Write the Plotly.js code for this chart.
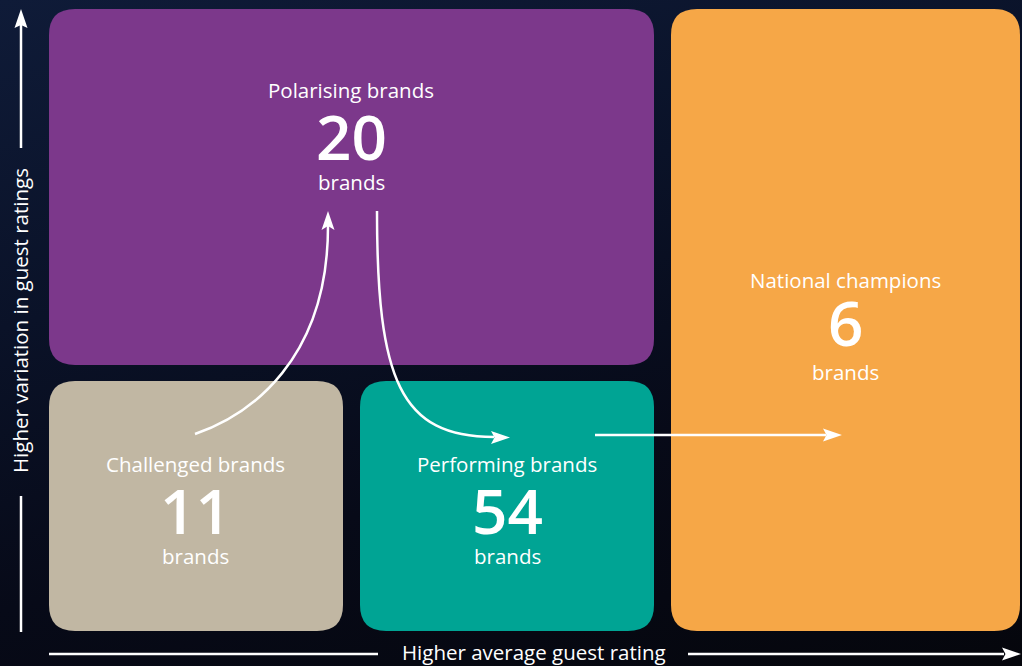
<!DOCTYPE html>
<html>
<head>
<meta charset="utf-8">
<script src="https://cdn.plot.ly/plotly-3.0.1.min.js"></script>
<style>
  html, body { margin:0; padding:0; width:1022px; height:666px; overflow:hidden;
    background: linear-gradient(165deg, #0f1b38 0%, #0a1228 35%, #070a18 65%, #05060c 100%); }
  #chart { width:1022px; height:666px; }
</style>
</head>
<body>
<div id="chart"></div>
<script>
// ---- data ----
const categories = ['Polarising brands', 'National champions', 'Challenged brands', 'Performing brands'];
const brandCounts = [20, 6, 11, 54];
const unitLabel = 'brands';
const xAxisLabel = 'Higher average guest rating';
const yAxisLabel = 'Higher variation in guest ratings';

// ---- layout constants (positions/styles) ----
const boxes = {
  'Polarising brands':  {x0: 49,  y0: 9,   x1: 654,  y1: 365, color: '#7c388b', cx: 351, ty: 89.5,  ny: 136, by: 182},
  'National champions': {x0: 671, y0: 9,   x1: 1020, y1: 631, color: '#f6a747', cx: 845, ty: 279.5, ny: 322, by: 371.5},
  'Challenged brands':  {x0: 49,  y0: 381, x1: 343,  y1: 631, color: '#c1b7a3', cx: 195, ty: 464,   ny: 510, by: 555.5},
  'Performing brands':  {x0: 360, y0: 381, x1: 654,  y1: 631, color: '#00a494', cx: 507, ty: 464,   ny: 510, by: 555.5}
};
const R = 26;
const FONT = '"Open Sans", Lato, sans-serif';
const WHITE = '#ffffff';
const LABEL_SIZE = 20.5;
const AXIS_SIZE = 20.5;
const NUM_SIZE = 62;

function roundRect(x0, y0, x1, y1, r) {
  return `M ${x0 + r} ${y0} L ${x1 - r} ${y0} Q ${x1} ${y0} ${x1} ${y0 + r} ` +
         `L ${x1} ${y1 - r} Q ${x1} ${y1} ${x1 - r} ${y1} ` +
         `L ${x0 + r} ${y1} Q ${x0} ${y1} ${x0} ${y1 - r} ` +
         `L ${x0} ${y0 + r} Q ${x0} ${y0} ${x0 + r} ${y0} Z`;
}

const shapes = [];
const annotations = [];

categories.forEach((cat, i) => {
  const b = boxes[cat];
  shapes.push({type: 'path', xref: 'x', yref: 'y', path: roundRect(b.x0, b.y0, b.x1, b.y1, R),
               fillcolor: b.color, line: {width: 0}, layer: 'below'});
  annotations.push({x: b.cx, y: b.ty, xref: 'x', yref: 'y', text: cat, showarrow: false,
                    font: {family: FONT, size: LABEL_SIZE, color: WHITE}, xanchor: 'center', yanchor: 'middle'});
  annotations.push({x: b.cx, y: b.ny, xref: 'x', yref: 'y', text: String(brandCounts[i]), showarrow: false,
                    font: {family: FONT, size: NUM_SIZE, color: WHITE, weight: 600}, xanchor: 'center', yanchor: 'middle'});
  annotations.push({x: b.cx, y: b.by, xref: 'x', yref: 'y', text: unitLabel, showarrow: false,
                    font: {family: FONT, size: LABEL_SIZE, color: WHITE}, xanchor: 'center', yanchor: 'middle'});
});

const arrowLine = {color: WHITE, width: 2.5};
function line(x0, y0, x1, y1, w) {
  shapes.push({type: 'line', xref: 'x', yref: 'y', x0, y0, x1, y1, line: {color: WHITE, width: w || 2.5}});
}
function head(path) {
  shapes.push({type: 'path', xref: 'x', yref: 'y', path, fillcolor: WHITE, line: {width: 0}});
}

// flow arrows
shapes.push({type: 'path', xref: 'x', yref: 'y', path: 'M 195 434 C 250 415, 328 360, 328 226', line: arrowLine});
head('M 328 211 L 334.5 230 L 328 226 L 321.5 230 Z');
shapes.push({type: 'path', xref: 'x', yref: 'y', path: 'M 377 211 C 377 380, 400 437, 494 437', line: arrowLine});
head('M 510 437.5 L 491 431 L 494.5 437.5 L 491 444 Z');
line(595, 435, 826, 435);
head('M 842 435 L 823 428.5 L 826.5 435 L 823 441.5 Z');

// axis arrows
line(21, 148, 21, 25, 2.5);
head('M 21 9 L 27.5 28 L 21 25 L 14.5 28 Z');
line(21, 496, 21, 632, 2.5);
line(49, 654, 378, 654, 2.5);
line(688, 654, 1004, 654, 2.5);
head('M 1021 654 L 1002 647.5 L 1005.5 654 L 1002 660.5 Z');

annotations.push({x: 534, y: 652, xref: 'x', yref: 'y', text: xAxisLabel, showarrow: false,
                  font: {family: FONT, size: AXIS_SIZE, color: WHITE}, xanchor: 'center', yanchor: 'middle'});
annotations.push({x: 20, y: 321, xref: 'x', yref: 'y', text: yAxisLabel, showarrow: false, textangle: -90,
                  font: {family: FONT, size: AXIS_SIZE, color: WHITE}, xanchor: 'center', yanchor: 'middle'});

const layout = {
  width: 1022, height: 666,
  margin: {l: 0, r: 0, t: 0, b: 0, pad: 0},
  paper_bgcolor: 'rgba(0,0,0,0)', plot_bgcolor: 'rgba(0,0,0,0)',
  xaxis: {range: [0, 1022], visible: false, fixedrange: true},
  yaxis: {range: [666, 0], visible: false, fixedrange: true},
  showlegend: false,
  shapes, annotations
};

Plotly.newPlot('chart', [{x: [], y: [], type: 'scatter', hoverinfo: 'skip'}], layout,
  {staticPlot: true, displayModeBar: false});
</script>
</body>
</html>
